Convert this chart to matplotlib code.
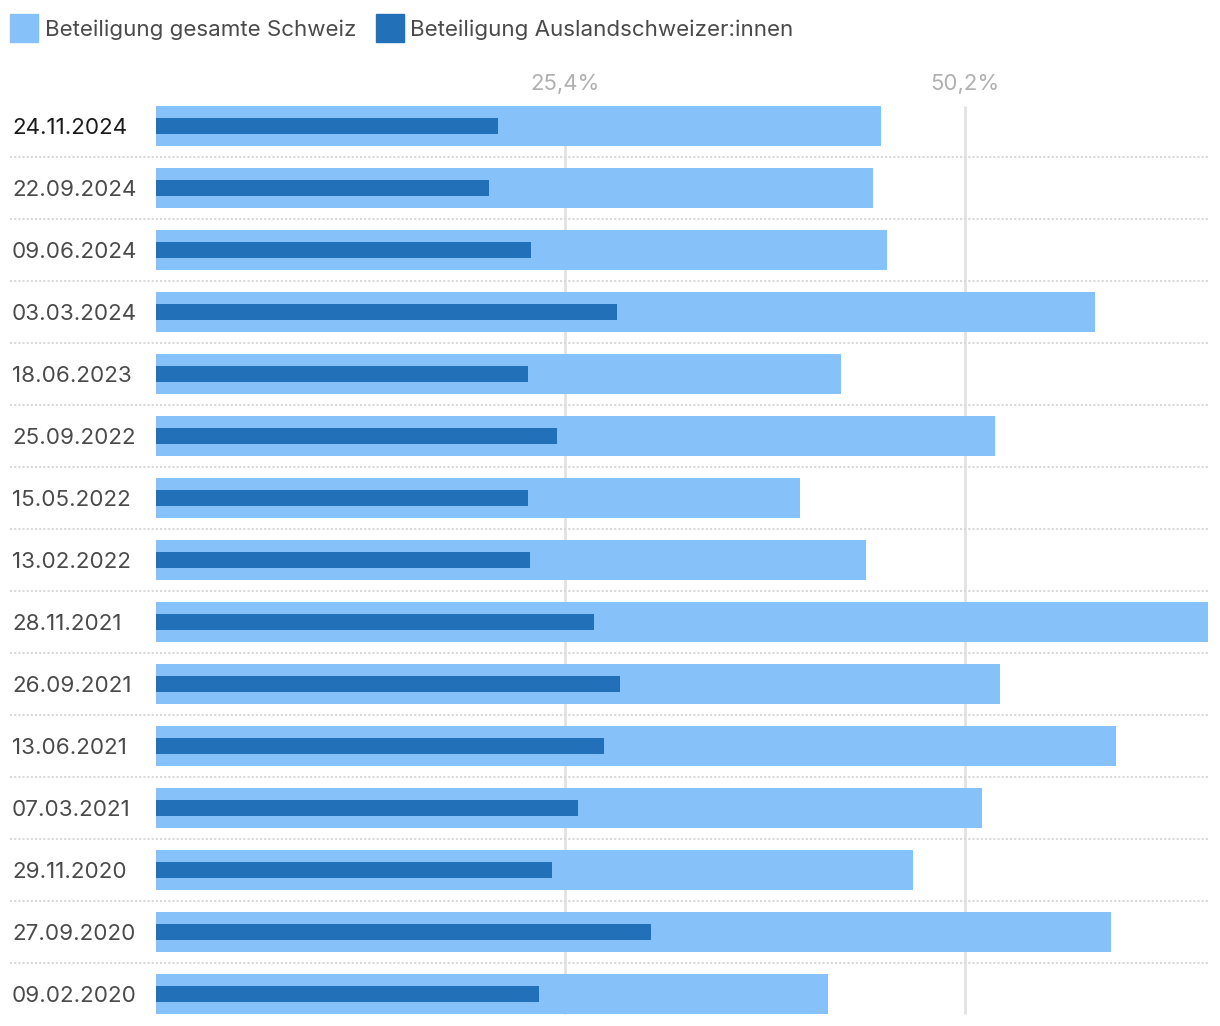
import matplotlib
matplotlib.use('Agg')
import matplotlib.pyplot as plt
import matplotlib.transforms as mtransforms
from matplotlib.patches import Rectangle

plt.rcParams['font.family'] = ['Inter', 'DejaVu Sans']

# data
dates = ['24.11.2024', '22.09.2024', '09.06.2024', '03.03.2024', '18.06.2023',
         '25.09.2022', '15.05.2022', '13.02.2022', '28.11.2021', '26.09.2021',
         '13.06.2021', '07.03.2021', '29.11.2020', '27.09.2020', '09.02.2020']
schweiz = [45.0, 44.5, 45.4, 58.3, 42.5, 52.1, 40.0, 44.1, 65.3, 52.4,
           59.6, 51.3, 47.0, 59.3, 41.7]
ausland = [21.2, 20.7, 23.3, 28.6, 23.1, 24.9, 23.1, 23.2, 27.2, 28.8,
           27.8, 26.2, 24.6, 30.7, 23.8]
ticks = [25.4, 50.2]
tick_labels = ['25,4%', '50,2%']
legend_labels = ['Beteiligung gesamte Schweiz', 'Beteiligung Auslandschweizer:innen']

light = '#86c1f9'
dark = '#2170b8'

W, H = 1220, 1026
fig = plt.figure(figsize=(W / 100, H / 100), dpi=100)
ax = fig.add_axes([156 / W, 1 - 1025 / H, 1052 / W, 930 / H])

ys = list(range(len(dates)))
ax.vlines(ticks, -0.32, len(dates) - 1 + 0.32, color='#e2e2e2', lw=2, zorder=0)
ax.barh(ys, schweiz, height=40 / 62, color=light, zorder=2)
ax.barh(ys, ausland, height=16 / 62, color=dark, zorder=3)

ax.set_xlim(0, 65.3)
ax.set_ylim(len(dates) - 0.5, -0.5)
ax.axis('off')

# dotted row separators, running under the date labels too
trans = mtransforms.blended_transform_factory(ax.transAxes, ax.transData)
x0 = (10 - 156) / 1052
for i in range(len(dates) - 1):
    ax.plot([x0, 1], [i + 0.5, i + 0.5], transform=trans, clip_on=False,
            color='#d9d9d9', lw=1.5, ls=(0, (1, 1)), zorder=1)

# date labels
for i, d in enumerate(dates):
    ax.text(x0 + 2 / 1052, i + 2 / 62, d, transform=trans, ha='left', va='center',
            fontsize=16.1, color='#1a1a1a' if i == 0 else '#4a4a4a')

# top tick labels
ttrans = mtransforms.blended_transform_factory(ax.transData, fig.transFigure)
for t, lab in zip(ticks, tick_labels):
    ax.text(t, 1 - 84 / H, lab, transform=ttrans, ha='center', va='center',
            fontsize=16, color='#b0b0b0')

# legend
for (sx, tx), lab, col in zip([(10, 45), (376, 410)], legend_labels, [light, dark]):
    fig.patches.append(Rectangle((sx / W, 1 - 42 / H), 28 / W, 28 / H,
                                 transform=fig.transFigure, color=col))
    fig.text(tx / W, 1 - 30 / H, lab, ha='left', va='center', fontsize=16.1,
             color='#4a4a4a')

fig.savefig('out.png', dpi=100)
